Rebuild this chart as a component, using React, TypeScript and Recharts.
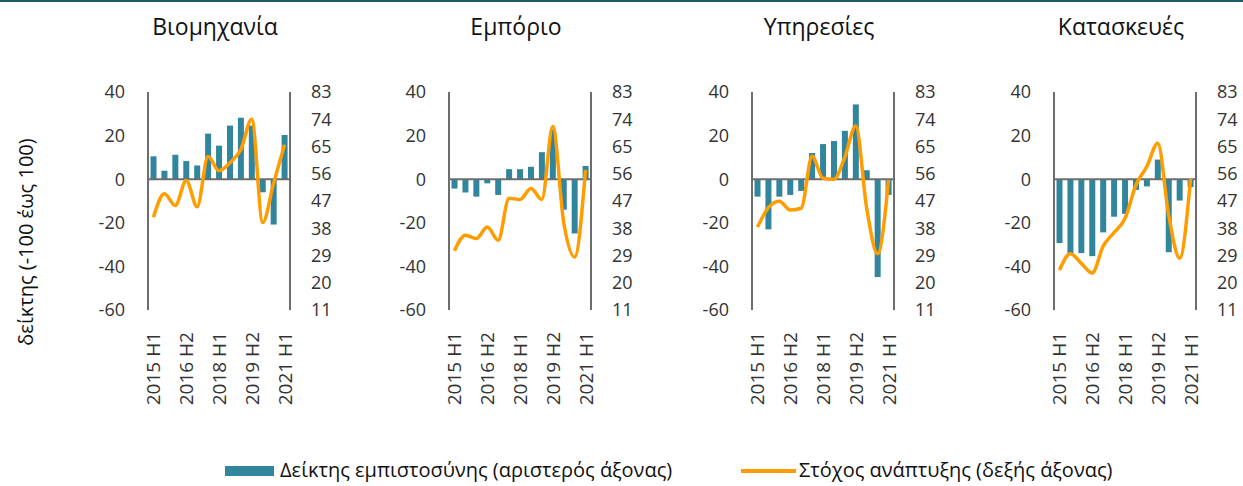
import React from "react";
import {
  ComposedChart,
  Bar,
  Line,
  XAxis,
  YAxis,
  ReferenceLine,
} from "recharts";

// εξάμηνα 2015 H1 - 2021 H1
const periods = [
  "2015 H1", "2015 H2", "2016 H1", "2016 H2", "2017 H1", "2017 H2", "2018 H1",
  "2018 H2", "2019 H1", "2019 H2", "2020 H1", "2020 H2", "2021 H1",
];

const titles = ["Βιομηχανία", "Εμπόριο", "Υπηρεσίες", "Κατασκευές"];

// δείκτης εμπιστοσύνης (αριστερός άξονας)
const industryConf = [10.5, 3.9, 11.2, 8.3, 6.3, 20.9, 15.4, 24.6, 28.2, 24.6, -6, -20.8, 20.3];
const tradeConf = [-4.3, -6.1, -8, -1.9, -7.2, 4.6, 4.6, 5.7, 12.4, 22.7, -14, -24.9, 6.1];
const servicesConf = [-8, -23, -8, -7.2, -5.4, 12, 16.1, 17.5, 22.2, 34.3, 4.1, -44.9, -7.2];
const constructionConf = [-29.3, -33.9, -33.9, -35.3, -24.4, -17.2, -15.9, -4.9, -3.3, 9, -33.5, -9.8, -3.6];

// στόχος ανάπτυξης (δεξής άξονας)
const industryTarget = [41.6, 49.4, 45.5, 53.8, 45.1, 61.7, 57, 59.6, 64, 74, 39.9, 52.9, 65.6];
const tradeTarget = [30.6, 35.7, 34.6, 38.4, 34, 47.9, 47.5, 51.1, 47.5, 71.6, 40, 28.5, 57.3];
const servicesTarget = [38.4, 44.8, 46.9, 44, 44.6, 61.8, 54.5, 54.2, 61.5, 71.8, 44.6, 29.6, 54];
const constructionTarget = [24.2, 29.6, 26.4, 23.2, 32.1, 36.6, 41.2, 52.3, 58.4, 66.1, 42.3, 28.1, 54.4];

const leftTicks = [-60, -40, -20, 0, 20, 40];
const rightTicks = [11, 20, 29, 38, 47, 56, 65, 74, 83];

const BAR_COLOR = "#31859c";
const LINE_COLOR = "#ff9c00";
const AXIS_COLOR = "#6d6d6d";
const TEXT_COLOR = "#333333";
const FONT = "'Open Sans', 'Noto Sans', sans-serif";

const confSeries = [industryConf, tradeConf, servicesConf, constructionConf];
const targetSeries = [industryTarget, tradeTarget, servicesTarget, constructionTarget];

// θέσεις των πάνελ (αριστερή άκρη της περιοχής σχεδίασης)
const plotLefts = [148, 449, 752, 1054];

const PeriodTick = (props: any) => {
  const { x, y, payload } = props;
  return (
    <text
      x={x}
      y={y}
      transform={`rotate(-90 ${x} ${y})`}
      textAnchor="end"
      dominantBaseline="central"
      fill={TEXT_COLOR}
      fontSize={19}
      fontFamily={FONT}
    >
      {payload.value}
    </text>
  );
};

function Panel({ idx }: { idx: number }) {
  const data = periods.map((p, i) => ({
    period: p,
    conf: confSeries[idx][i],
    target: targetSeries[idx][i],
  }));
  const tickStyle = { fill: TEXT_COLOR, fontSize: 18, fontFamily: FONT };
  return (
    <div style={{ position: "absolute", left: plotLefts[idx] - 60, top: 0 }}>
      <ComposedChart
        width={262}
        height={420}
        data={data}
        margin={{ top: 92, right: 0, bottom: 0, left: 0 }}
        barCategoryGap="23%"
      >
        <XAxis
          dataKey="period"
          interval={2}
          axisLine={false}
          tickLine={false}
          tickSize={0}
          tickMargin={22}
          height={110}
          tick={<PeriodTick />}
        />
        <YAxis
          yAxisId="left"
          orientation="left"
          width={60}
          domain={[-60, 40]}
          ticks={leftTicks}
          interval={0}
          axisLine={{ stroke: AXIS_COLOR, strokeWidth: 2 }}
          tickLine={false}
          tickSize={0}
          tickMargin={23}
          tick={tickStyle}
        />
        <YAxis
          yAxisId="right"
          orientation="right"
          width={60}
          domain={[11, 83]}
          ticks={rightTicks}
          interval={0}
          axisLine={{ stroke: AXIS_COLOR, strokeWidth: 2 }}
          tickLine={false}
          tickSize={0}
          tickMargin={21}
          tick={tickStyle}
        />
        <Bar yAxisId="left" dataKey="conf" fill={BAR_COLOR} isAnimationActive={false} />
        <ReferenceLine yAxisId="left" y={0} stroke={AXIS_COLOR} strokeWidth={2} />
        <Line
          yAxisId="right"
          dataKey="target"
          type="monotone"
          stroke={LINE_COLOR}
          strokeWidth={3.5}
          dot={false}
          isAnimationActive={false}
        />
      </ComposedChart>
      <div
        style={{
          position: "absolute",
          left: 36,
          width: 182,
          top: 10,
          textAlign: "center",
          fontSize: 23,
          fontFamily: FONT,
          color: "#111",
          whiteSpace: "nowrap",
        }}
      >
        {titles[idx]}
      </div>
    </div>
  );
}

export default function App() {
  return (
    <div
      style={{
        position: "relative",
        width: 1243,
        height: 486,
        background: "#fff",
        overflow: "hidden",
        fontFamily: FONT,
      }}
    >
      <style>{`body{margin:0}`}</style>
      <div style={{ position: "absolute", left: 0, top: 0, width: 1243, height: 2, background: "#1f5a6b" }} />

      {/* τίτλος αριστερού άξονα */}
      <div
        style={{
          position: "absolute",
          left: 25,
          top: 242,
          transform: "translate(-50%, -50%) rotate(-90deg)",
          fontSize: 20,
          color: "#111",
          whiteSpace: "nowrap",
        }}
      >
        δείκτης (-100 έως 100)
      </div>

      {titles.map((_, i) => (
        <Panel key={i} idx={i} />
      ))}

      {/* υπόμνημα */}
      <div style={{ position: "absolute", left: 225, top: 466, width: 49, height: 10, background: BAR_COLOR }} />
      <div style={{ position: "absolute", left: 280, top: 456, fontSize: 20, color: "#111", whiteSpace: "nowrap" }}>
        Δείκτης εμπιστοσύνης (αριστερός άξονας)
      </div>
      <div style={{ position: "absolute", left: 741, top: 469, width: 55, height: 4, background: LINE_COLOR }} />
      <div style={{ position: "absolute", left: 799, top: 456, fontSize: 20, color: "#111", whiteSpace: "nowrap" }}>
        Στόχος ανάπτυξης (δεξής άξονας)
      </div>
    </div>
  );
}
